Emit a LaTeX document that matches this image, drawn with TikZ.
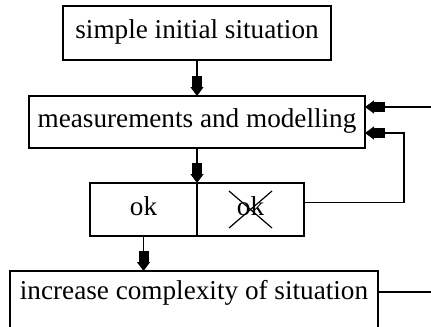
\documentclass[tikz,border=0pt]{standalone}
\usepackage{fontspec}
\setmainfont{Liberation Serif}
\usetikzlibrary{arrows.meta,positioning,calc}
\tikzset{
  stage/.style={draw, line width=0.65pt, inner xsep=3pt, inner ysep=2pt, outer sep=0pt,
                text height=0.75em, text depth=0.2em, font=\fontsize{13.6pt}{16pt}\selectfont},
  stagearrow/.style={line width=0.6pt,
                -{Rectangle[length=5.5pt,width=5pt,sep=0pt]Triangle[length=4.5pt,width=6.5pt,sep=0pt]}},
  stageline/.style={line width=0.6pt}
}
\begin{document}
\begin{tikzpicture}[x=0.5pt, y=-0.5pt, node distance=18pt]
\useasboundingbox (0,0) rectangle (431,326);
\node[stage, minimum width=134pt, minimum height=27pt] (init) at (197,33) {simple initial situation};
\node[stage, minimum width=168pt, minimum height=26pt, below=of init] (meas) {measurements and modelling};
\node[stage, minimum width=53.5pt, minimum height=26.5pt, below=17.5pt of meas.south, anchor=north east] (ok) {ok};
\node[stage, minimum width=53.5pt, minimum height=26.5pt, right=0pt of ok] (notok) {ok};
\node[stage, minimum width=184pt, minimum height=40pt, text depth=1.9em,
      below=17.5pt of ok.south, xshift=25.25pt] (incr) {increase complexity of situation};
% loose ends at the right margin
\coordinate (in1) at (431,107);
\coordinate (loop) at (404,168);
\coordinate (out1) at (431,292);
\draw[stageline] ($(notok)+(-21.5,-18.5)$) -- ($(notok)+(21.5,18.5)$);
\draw[stageline] ($(notok)+(21.5,-18.5)$) -- ($(notok)+(-21.5,18.5)$);
\draw[stagearrow] (init) -- (meas);
\draw[stagearrow] (meas.south) -- (notok.north west);
\draw[stagearrow] (ok.south) -- (ok.south |- incr.north);
\draw[stagearrow] (in1) -- (in1 -| meas.east);
\draw[stagearrow] ($(notok.east)+(0,-7)$) -| (loop) |- ($(meas.east)+(0,11)$);
\draw[stageline] (out1 -| incr.east) -- (out1);
\end{tikzpicture}
\end{document}
